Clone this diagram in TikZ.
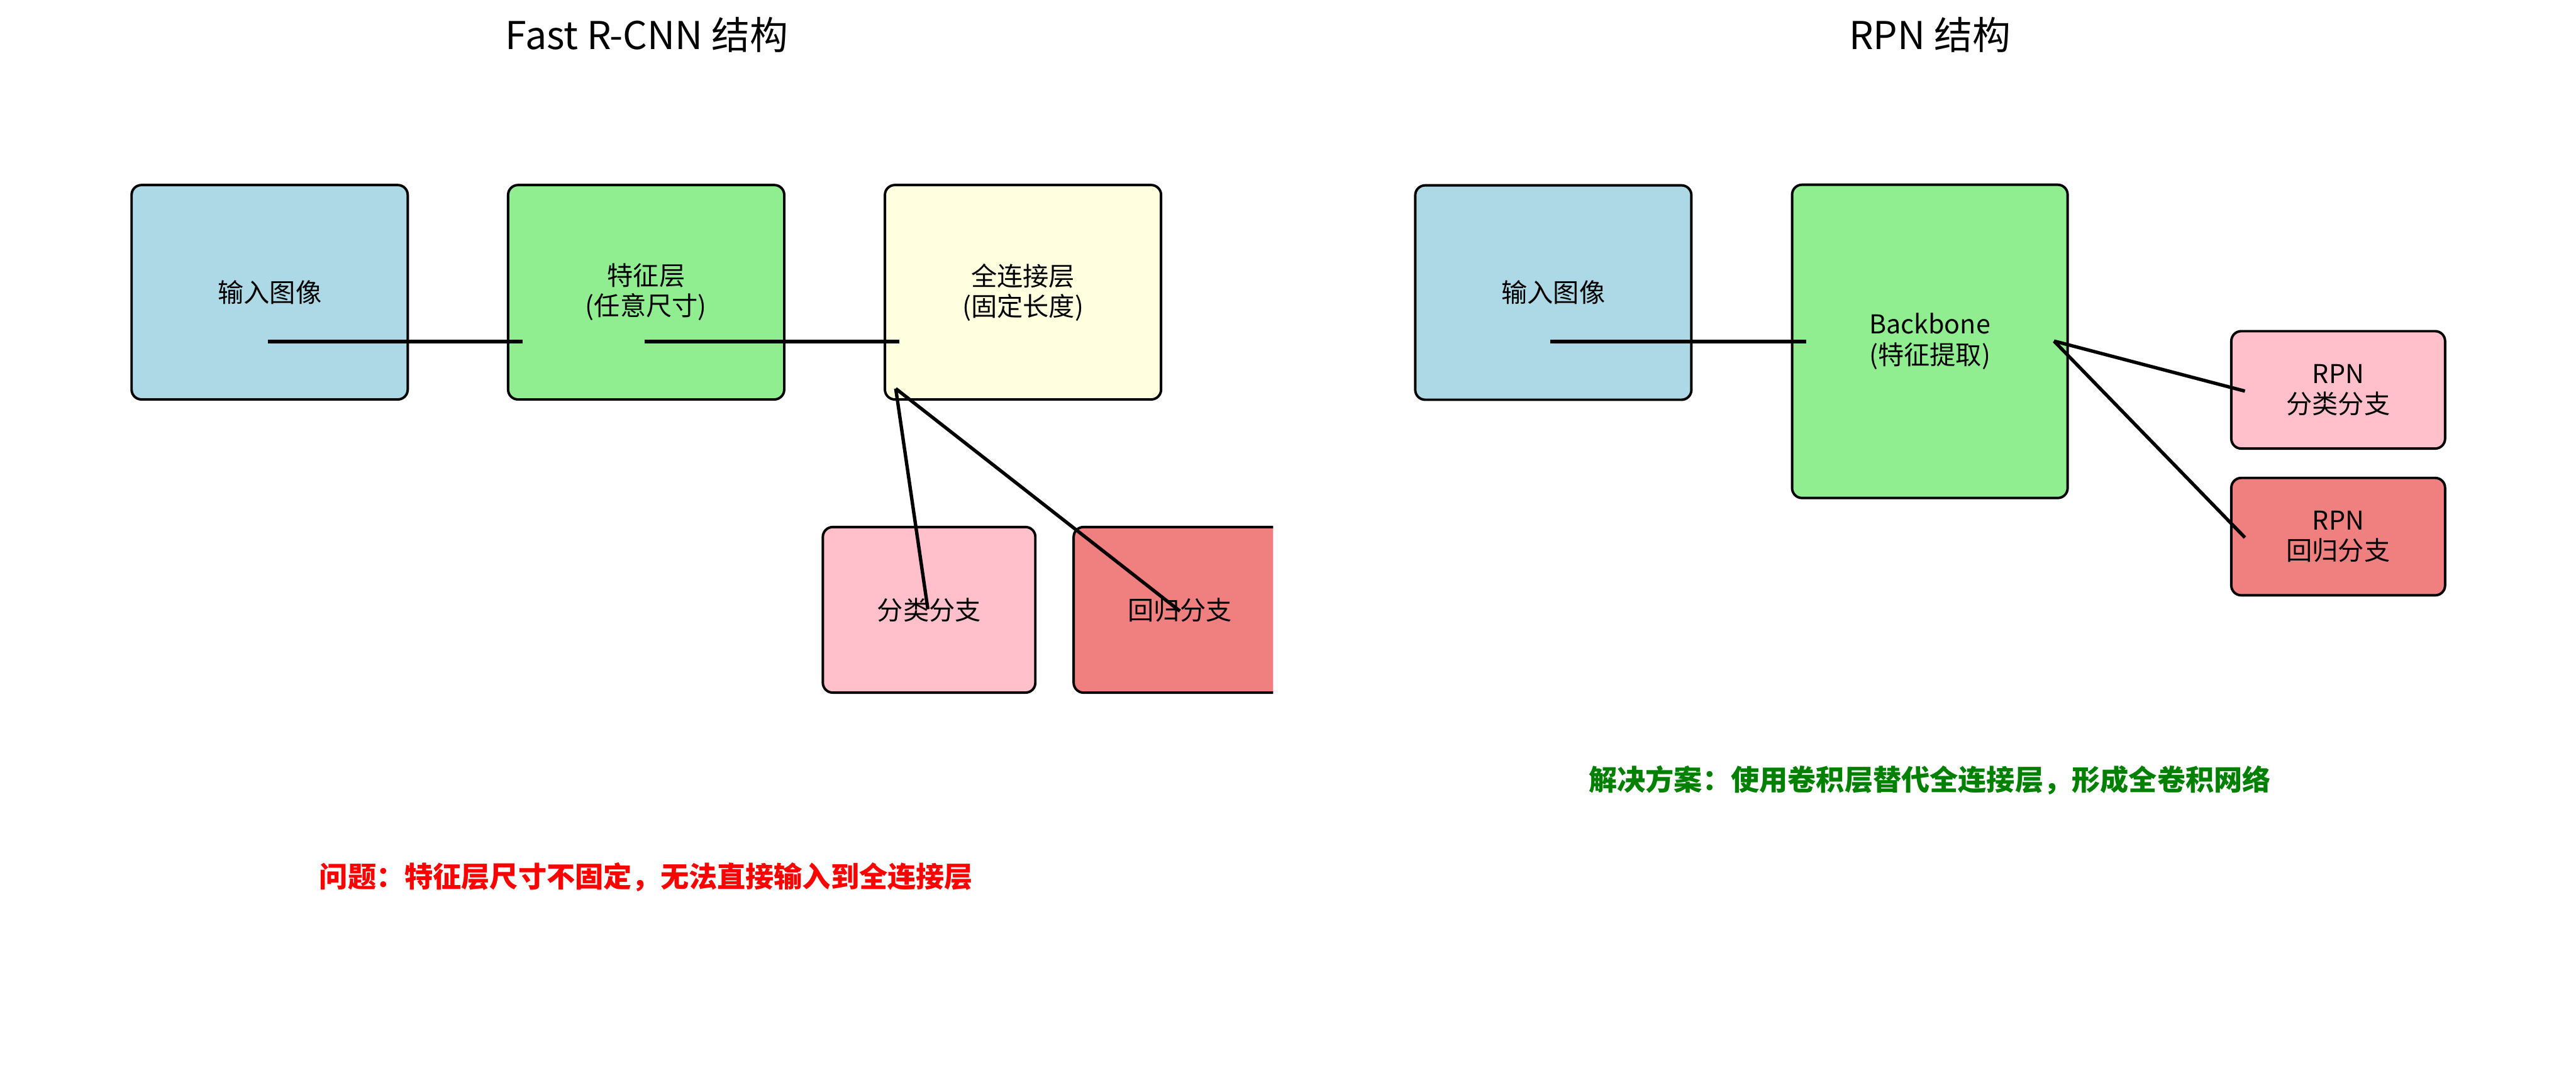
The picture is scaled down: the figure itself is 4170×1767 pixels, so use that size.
\documentclass[tikz,border=0pt]{standalone}
\usepackage{fontspec}
\setmainfont{Noto Sans CJK SC}
\usetikzlibrary{calc}
\definecolor{cLightBlue}{HTML}{ADD8E6}
\definecolor{cLightGreen}{HTML}{90EE90}
\definecolor{cLightYellow}{HTML}{FFFFE0}
\definecolor{cPink}{HTML}{FFC0CB}
\definecolor{cCoral}{HTML}{F08080}
\definecolor{cRed}{HTML}{FF0000}
\definecolor{cGreen}{HTML}{008000}
\tikzset{
  box/.style={draw=black, line width=0.8pt, rounded corners=3.2pt, align=center,
    inner sep=0pt, font=\fontsize{8.4pt}{9.8pt}\selectfont},
  bigbox/.style={box, minimum width=89.4pt, minimum height=69.4pt},
  smallbox/.style={box, minimum width=68.8pt, minimum height=53.6pt},
  rpnbox/.style={box, minimum width=69.2pt, minimum height=38pt},
  conn/.style={line width=1.1pt, black},
  title/.style={anchor=base, font=\fontsize{12.4pt}{14pt}\selectfont},
  note/.style={font=\fontsize{9.2pt}{11pt}\selectfont\bfseries}
}
\begin{document}
\begin{tikzpicture}[x=0.2pt, y=-0.2pt]
\useasboundingbox (0,0) rectangle (4170,1767);
% titles
\node[title] (t1) at (1047,80) {Fast R-CNN 结构};
\node[title] (t2) at (3124,80) {RPN 结构};
% left diagram
\node[bigbox, fill=cLightBlue] (in1) at (436.5,473) {输入图像};
\node[bigbox, fill=cLightGreen] (feat) at (1046,473) {特征层\\(任意尺寸)};
\node[bigbox, fill=cLightYellow] (fc) at (1656,473) {全连接层\\(固定长度)};
\node[smallbox, fill=cPink] (cls) at (1504,987) {分类分支};
\begin{scope}
  \clip (0,0) rectangle (2061,1767);
  \node[smallbox, fill=cCoral] (reg) at (1910,987) {回归分支};
\end{scope}
\coordinate (a1) at (434,553);
\coordinate (a2) at (846,553);
\coordinate (b1) at (1043,553);
\coordinate (b2) at (1456,553);
\coordinate (c0) at (1450,629);
\coordinate (c1) at (1502,986);
\coordinate (c2) at (1910,989);
\draw[conn] (a1) -- (a2);
\draw[conn] (b1) -- (b2);
\draw[conn] (c0) -- (c1);
\draw[conn] (c0) -- (c2);
% right diagram
\node[bigbox, fill=cLightBlue] (in2) at (2514.5,473.5) {输入图像};
\node[box, fill=cLightGreen, minimum width=89.2pt, minimum height=101.4pt] (bb) at (3124,552.5) {Backbone\\(特征提取)};
\node[rpnbox, fill=cPink] (rcls) at (3785,631) {RPN\\分类分支};
\node[rpnbox, fill=cCoral] (rreg) at (3785,868.5) {RPN\\回归分支};
\coordinate (d1) at (2510,553);
\coordinate (d2) at (2924,553);
\coordinate (e0) at (3325,552);
\coordinate (e1) at (3634,633);
\coordinate (e2) at (3634,870);
\draw[conn] (d1) -- (d2);
\draw[conn] (e0) -- (e1);
\draw[conn] (e0) -- (e2);
% notes
\node[note, text=cRed] (n1) at (1046,1420) {问题：特征层尺寸不固定，无法直接输入到全连接层};
\node[note, text=cGreen] (n2) at (3124,1263) {解决方案：使用卷积层替代全连接层，形成全卷积网络};
\end{tikzpicture}
\end{document}
